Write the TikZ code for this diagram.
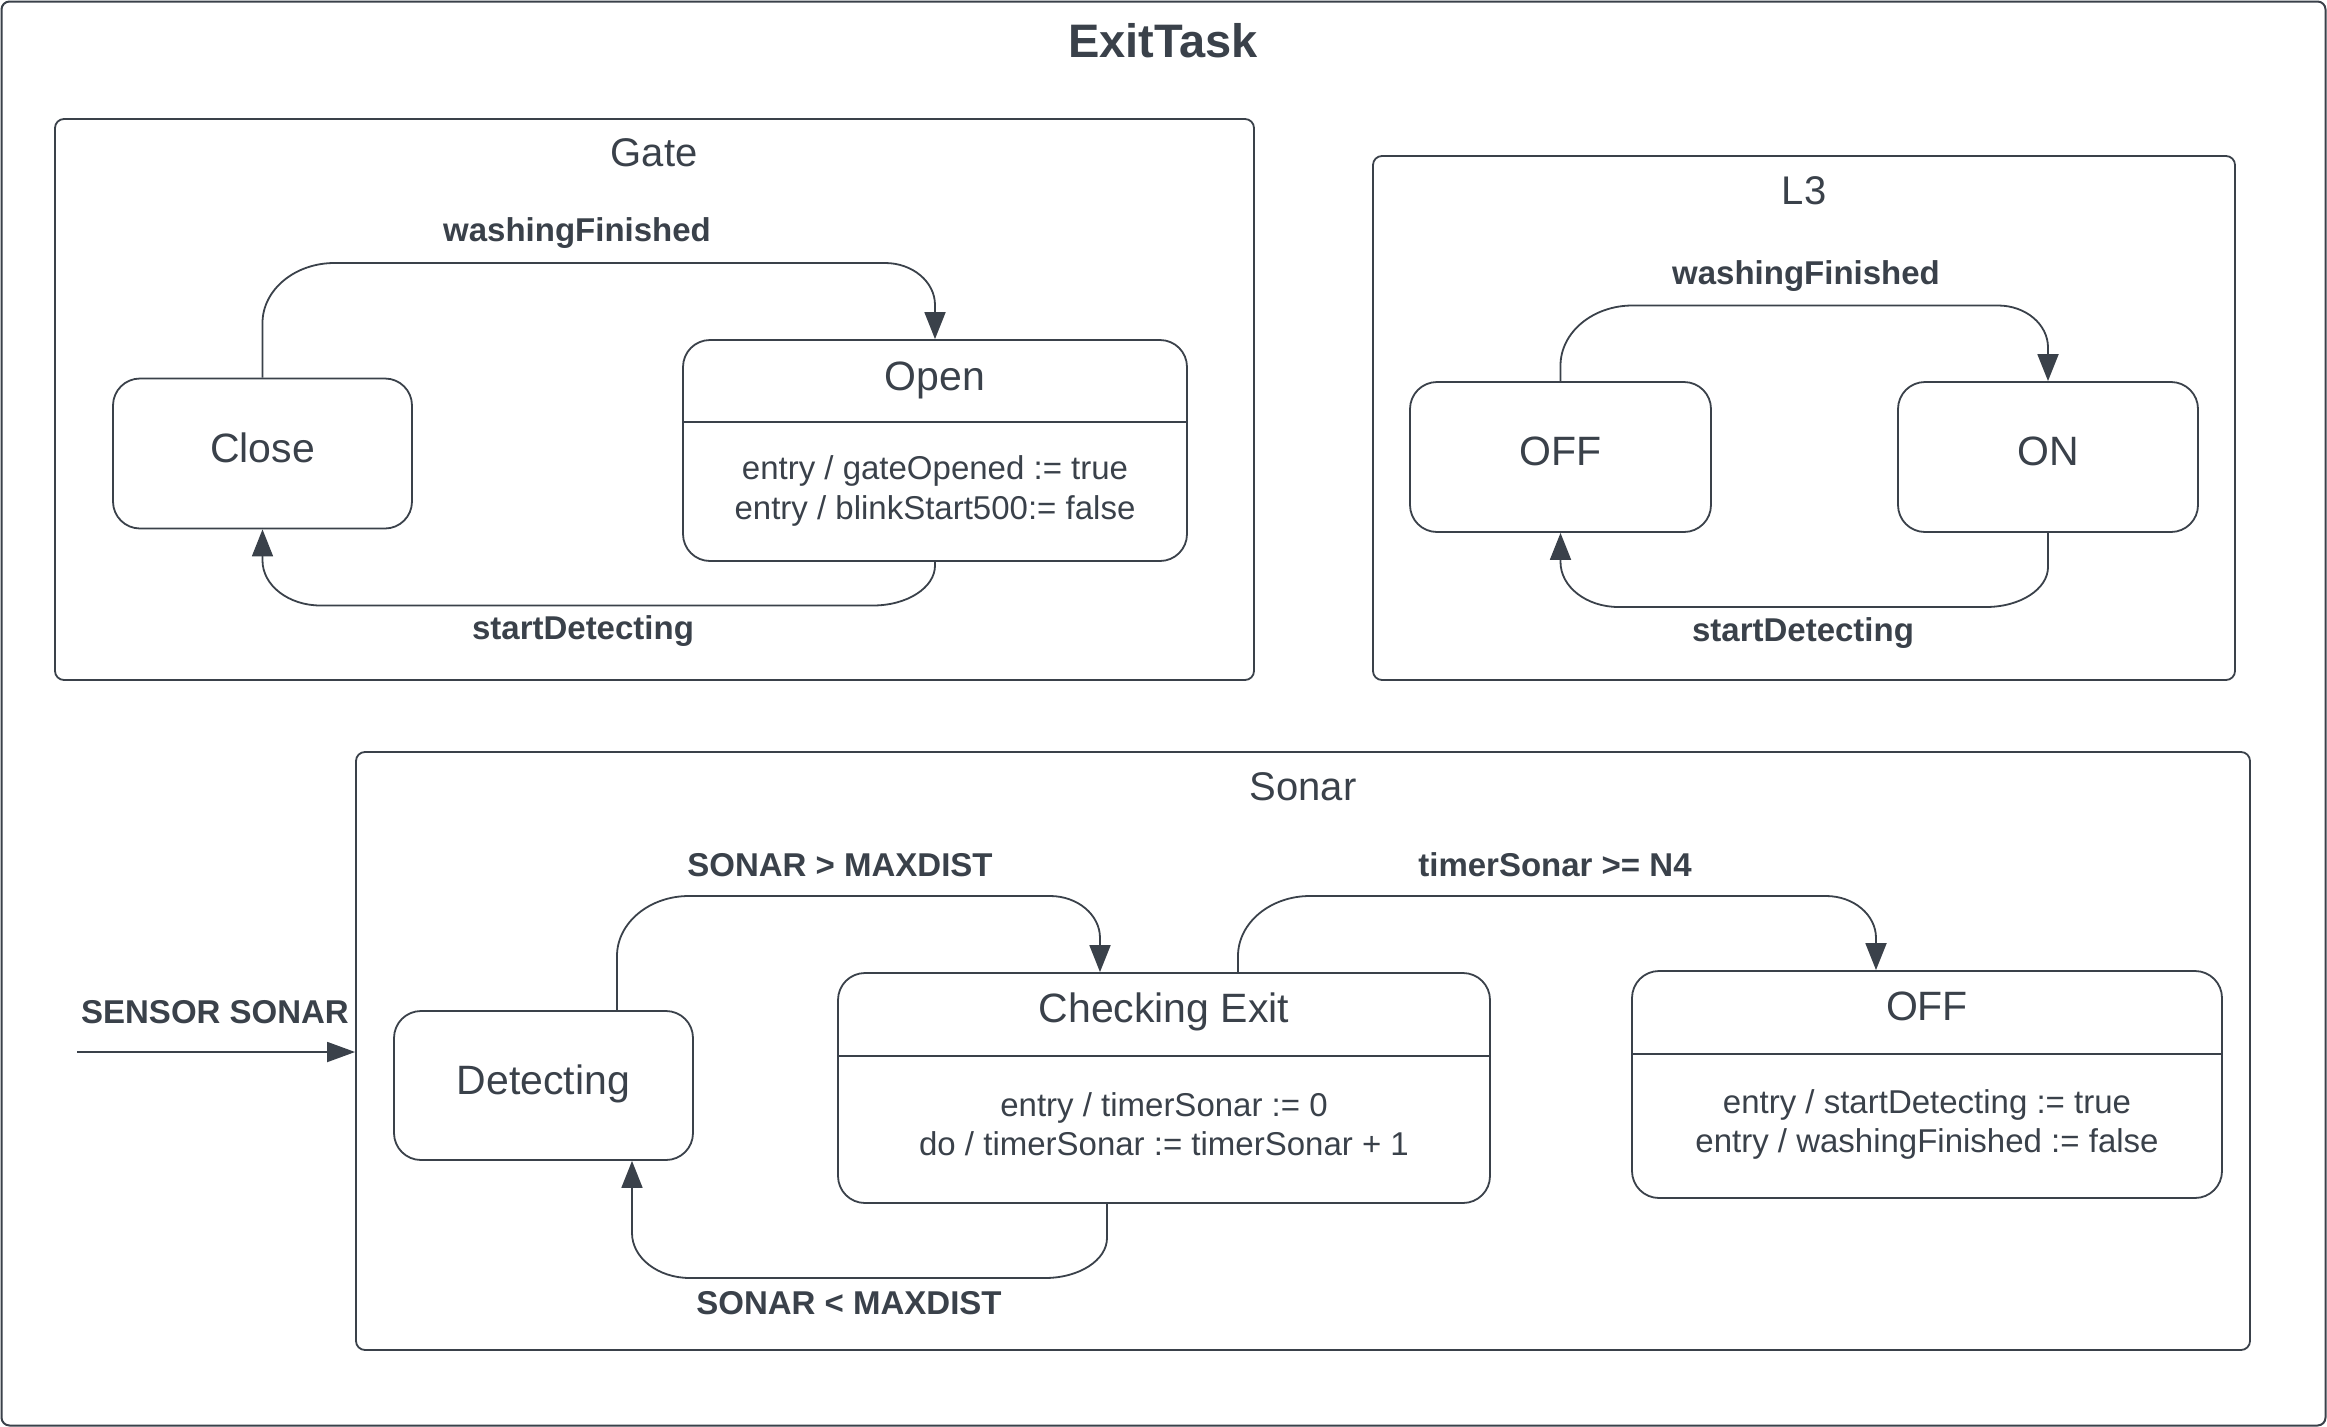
\documentclass[tikz,border=0pt]{standalone}
\usepackage{fontspec}
\setmainfont{Liberation Sans}
\usetikzlibrary{arrows.meta,calc}
\definecolor{ink}{HTML}{3A414A}
% curved connector going up from source, across at level #3, down into target
\newcommand{\topconn}[3]{%
  \draw[conn] (#1) -- ($(#1 |- 0,#3)+(0,60)$)
    .. controls +(0,-33.1) and +(-39.8,0) .. ($(#1 |- 0,#3)+(72,0)$)
    -- ($(#2 |- 0,#3)+(-50,0)$)
    .. controls +(27.6,0) and +(0,-23.2) .. ($(#2 |- 0,#3)+(0,42)$)
    -- (#2);}
% curved connector going down from source, back left at level #3, up into target
\newcommand{\botconn}[3]{%
  \draw[conn] (#1) -- ($(#1 |- 0,#3)+(0,-40)$)
    .. controls +(0,22.1) and +(34.2,0) .. ($(#1 |- 0,#3)+(-62,0)$)
    -- ($(#2 |- 0,#3)+(58,0)$)
    .. controls +(-32,0) and +(0,24.9) .. ($(#2 |- 0,#3)+(0,-45)$)
    -- (#2);}
\begin{document}
\begin{tikzpicture}[x=1pt,y=-1pt,
  every node/.style={text=ink, inner sep=0pt},
  frame/.style={draw=ink, line width=2pt, rounded corners=8pt},
  container/.style={draw=ink, line width=1.8pt, rounded corners=9pt},
  statebox/.style={draw=ink, line width=1.8pt, rounded corners=27pt,
    font=\fontsize{41}{49}\selectfont, text height=17pt, text depth=0pt},
  grouptxt/.style={anchor=base, font=\fontsize{40}{48}\selectfont},
  titletxt/.style={anchor=base, font=\fontsize{41}{49}\selectfont},
  bodytxt/.style={anchor=base, font=\fontsize{33}{40}\selectfont},
  lbl/.style={anchor=base, font=\fontsize{33}{40}\selectfont\bfseries},
  divider/.style={draw=ink, line width=2pt},
  conn/.style={draw=ink, line width=1.8pt, -{Triangle[length=27pt,width=21pt]}},
  initconn/.style={draw=ink, line width=1.8pt, -{Triangle[length=28pt,width=20pt]}}
]
\useasboundingbox (0,0) rectangle (2327,1427);
\draw[frame] (1.5,1.5) rectangle (2325.5,1425.5);
\node[anchor=base, font=\fontsize{47}{56}\selectfont\bfseries] (title) at (1163,57) {ExitTask};

% ---------- Gate ----------
\node[container, minimum width=1199pt, minimum height=561pt] (gate) at (654.5,399.5) {};
\node[grouptxt] (gatet) at (654,166) {Gate};
\node[statebox, minimum width=299pt, minimum height=150pt] (close) at (262.5,453.5) {Close};
\node[statebox, minimum width=504pt, minimum height=221pt] (open) at (935,450.5) {};
\node[titletxt] (opent) at (935,390.5) {Open};
\draw[divider] (open.west |- 0,421.5) -- (open.east |- 0,421.5);
\node[bodytxt] (openb1) at (935,479.2) {entry / gateOpened := true};
\node[bodytxt] (openb2) at (935,519.2) {entry / blinkStart500:= false};
\topconn{close.north}{open.north}{263}
\botconn{open.south}{close.south}{605.5}
\node[lbl] (gl1) at (577,241.7) {washingFinished};
\node[lbl] (gl2) at (583,639.5) {startDetecting};

% ---------- L3 ----------
\node[container, minimum width=862pt, minimum height=524pt] (l3) at (1804,418) {};
\node[grouptxt] (l3t) at (1804,204) {L3};
\node[statebox, minimum width=301pt, minimum height=150pt] (loff) at (1560.5,457) {OFF};
\node[statebox, minimum width=300pt, minimum height=150pt] (lon) at (2048,457) {ON};
\topconn{loff.north}{lon.north}{305.5}
\botconn{lon.south}{loff.south}{607}
\node[lbl] (ll1) at (1806,284) {washingFinished};
\node[lbl] (ll2) at (1803,641.5) {startDetecting};

% ---------- Sonar ----------
\node[container, minimum width=1894pt, minimum height=598pt] (sonar) at (1303,1051) {};
\node[grouptxt] (sonart) at (1303,800) {Sonar};
\node[statebox, minimum width=299pt, minimum height=149pt] (det) at (543.5,1085.5) {Detecting};
\node[statebox, minimum width=652pt, minimum height=230pt] (chk) at (1164,1088) {};
\node[titletxt] (chkt) at (1164,1022.7) {Checking Exit};
\draw[divider] (chk.west |- 0,1056) -- (chk.east |- 0,1056);
\node[bodytxt] (chkb1) at (1164,1116) {entry / timerSonar := 0};
\node[bodytxt] (chkb2) at (1164,1155) {do / timerSonar := timerSonar + 1};
\node[statebox, minimum width=590pt, minimum height=227pt] (soff) at (1927,1084.5) {};
\node[titletxt] (sofft) at (1927,1020.7) {OFF};
\draw[divider] (soff.west |- 0,1054.3) -- (soff.east |- 0,1054.3);
\node[bodytxt] (soffb1) at (1927,1113.3) {entry / startDetecting := true};
\node[bodytxt] (soffb2) at (1927,1152.3) {entry / washingFinished := false};

\coordinate (detout) at ([xshift=73.5pt]det.north);
\coordinate (chkin) at ([xshift=-64pt]chk.north);
\coordinate (chkout) at ([xshift=74pt]chk.north);
\coordinate (soffin) at ([xshift=-51pt]soff.north);
\coordinate (chkback) at ([xshift=-57pt]chk.south);
\coordinate (detin) at ([xshift=88.5pt]det.south);
\topconn{detout}{chkin}{896}
\topconn{chkout}{soffin}{896}
\botconn{chkback}{detin}{1278}
\node[lbl] (sl1) at (840,876) {SONAR > MAXDIST};
\node[lbl] (sl2) at (849,1314) {SONAR < MAXDIST};
\node[lbl] (sl3) at (1555,876) {timerSonar >= N4};

\coordinate (init) at (77,1052);
\draw[initconn] (init) -- (sonar.west |- init);
\node[lbl] (sl4) at (215,1023) {SENSOR SONAR};
\end{tikzpicture}
\end{document}
